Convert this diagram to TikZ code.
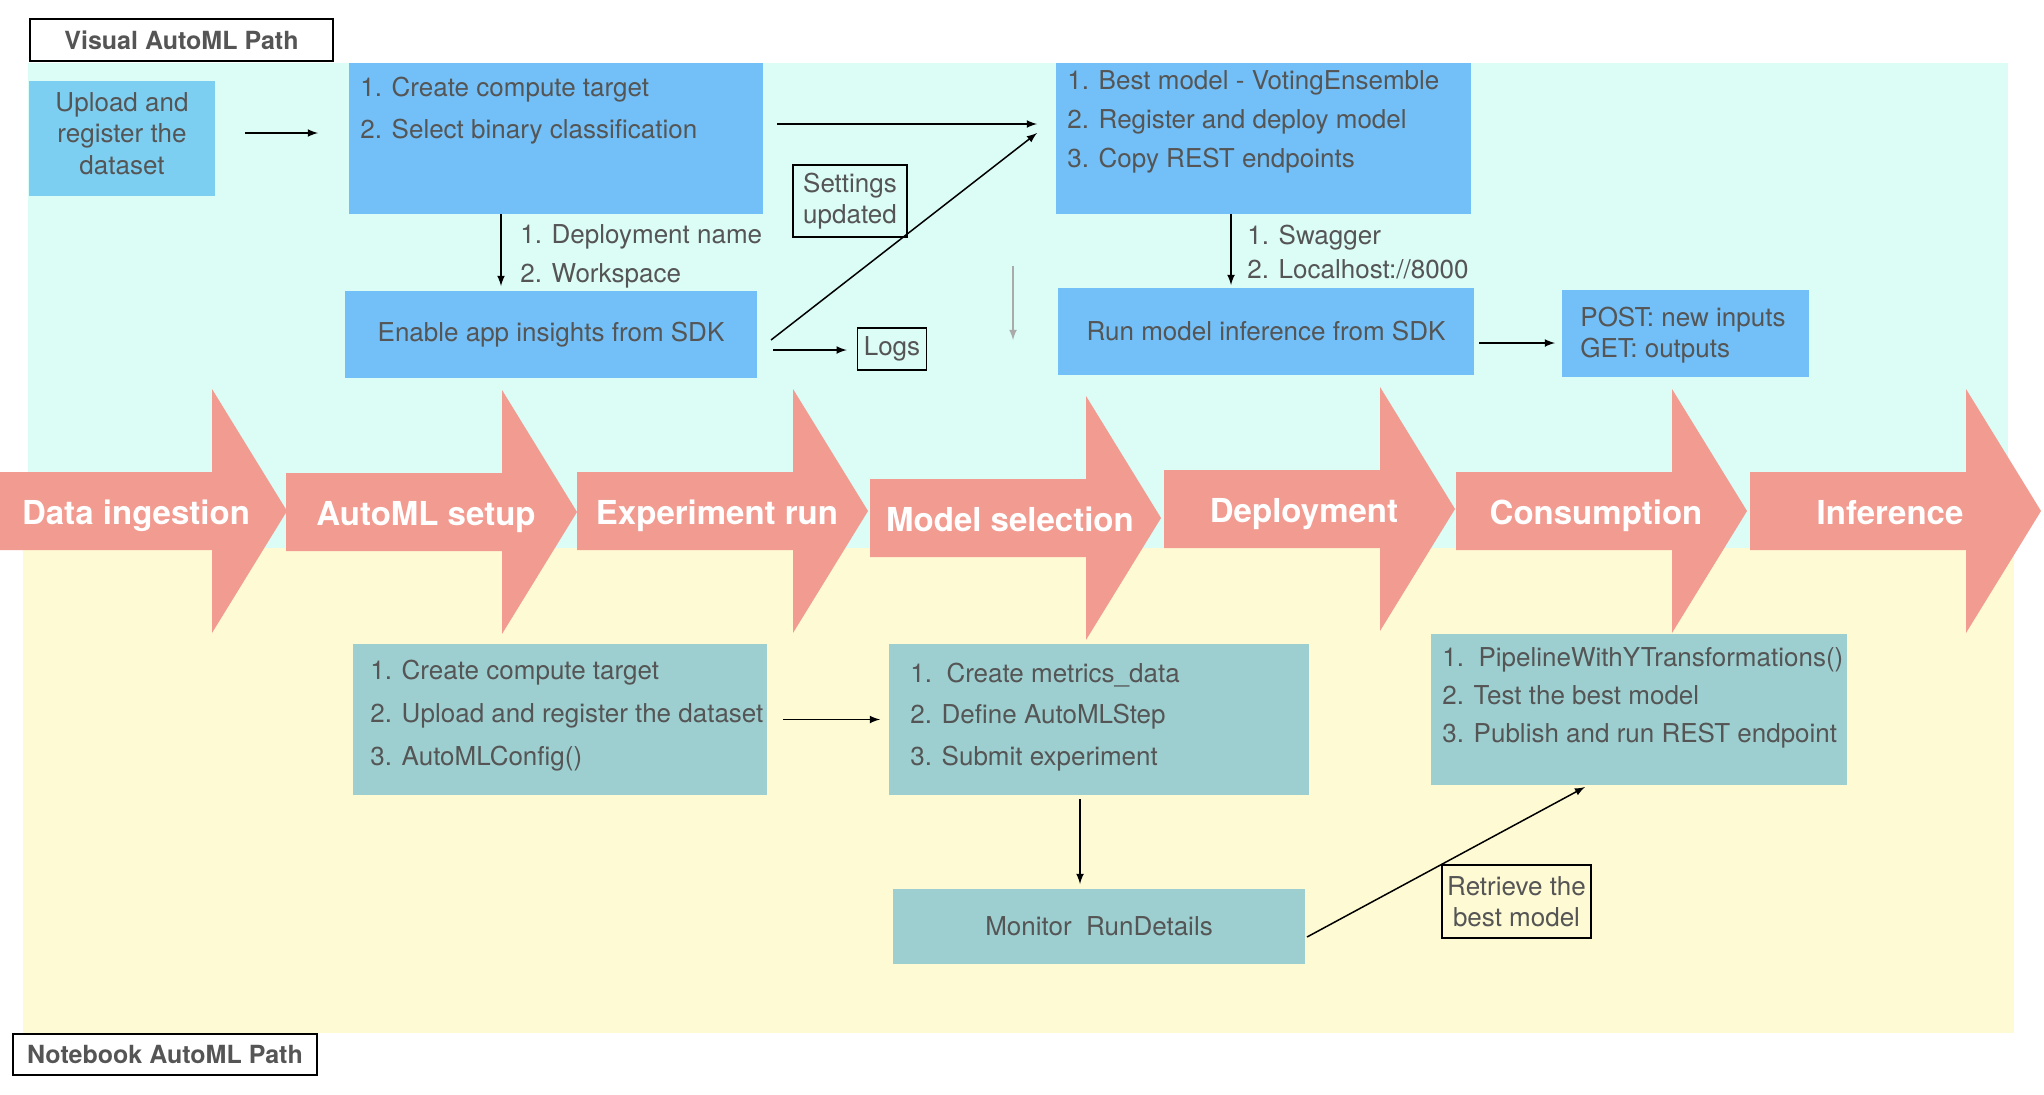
\documentclass[tikz,border=0pt]{standalone}
\usepackage{fontspec}
\setmainfont{TeX Gyre Heros}
\usetikzlibrary{calc, arrows}
\tikzset{>=latex}
\definecolor{mycyan}{RGB}{220, 252, 246}
\definecolor{myyellow}{RGB}{254, 250, 212}
\definecolor{myblue}{RGB}{114, 192, 247}
\definecolor{myblue2}{RGB}{125, 207, 241}
\definecolor{myteal}{RGB}{157, 207, 208}
\definecolor{mysalmon}{RGB}{241, 155, 145}
\definecolor{mytext}{RGB}{85, 85, 85}
\definecolor{mygray}{RGB}{170, 170, 170}

\tikzset{
  bbox/.style={anchor=north west, inner sep=0pt, outer sep=0pt, text=mytext, align=center, font=\fontsize{13}{15.75}\selectfont},
  txt/.style={anchor=north west, text=mytext, inner sep=0pt, align=left, font=\fontsize{13}{#1}\selectfont},
  txt/.default=21pt,
  tag/.style={draw, line width=0.75pt, text=mytext, inner sep=0pt, align=center, font=\fontsize{13}{15.5}\selectfont},
  pathtitle/.style={draw, line width=1pt, text=mytext, inner sep=0pt, font=\bfseries\fontsize{12.5}{15}\selectfont},
  stage/.style={anchor=base, text=white, font=\bfseries\fontsize{16.5}{20}\selectfont},
  conn/.style={->, line width=0.75pt}
}

\begin{document}
\begin{tikzpicture}[x=0.5pt, y=-0.5pt]
\useasboundingbox (0,0) rectangle (2044,1094);

% the two paths
\fill[mycyan] (28,63) rectangle (2008,548);
\fill[myyellow] (23,548) rectangle (2014,1033);
\node[pathtitle, minimum width=151.5pt, minimum height=21pt] (vis) at (181.5,40) {Visual AutoML Path};
\node[pathtitle, minimum width=152pt, minimum height=20.5pt] (nbk) at (165,1054.5) {Notebook AutoML Path};

% stages
\foreach \x/\y/\lbl [count=\i] in {-4/511/Data ingestion, 286/512/AutoML setup, 577/511/Experiment run,
    870/518/Model selection, 1164/509/Deployment, 1456/511/Consumption, 1750/511/Inference} {
  \fill[mysalmon] (\x,\y-39) -- (\x+216,\y-39) -- (\x+216,\y-122) -- (\x+291,\y)
    -- (\x+216,\y+122) -- (\x+216,\y+39) -- (\x,\y+39) -- cycle;
  \node[stage] (st\i) at (\x+140,\y+13) {\lbl};
}

% visual path
\node[bbox, fill=myblue2, minimum width=93pt, minimum height=57.5pt] (upl) at (29,81) {};
\node[bbox, anchor=center] (upltxt) at ([yshift=2.5pt]upl.center) {Upload and\\register the\\dataset};
\node[bbox, fill=myblue, minimum width=207pt, minimum height=75.5pt] (cfg) at (349,63) {};
\node[txt] (cfgtxt) at (360,76.5) {1. Create compute target\\2. Select binary classification};
\node[bbox, fill=myblue, minimum width=206pt, minimum height=43.5pt] (ins) at (345,291) {Enable app insights from SDK};
\node[bbox, fill=myblue, minimum width=207.5pt, minimum height=75.5pt] (best) at (1056,63) {};
\node[txt=19.5pt] (besttxt) at (1067,70.5) {1. Best model - VotingEnsemble\\2. Register and deploy model\\3. Copy REST endpoints};
\node[bbox, fill=myblue, minimum width=208pt, minimum height=43.5pt] (run) at (1058,288) {Run model inference from SDK};
\node[bbox, fill=myblue, minimum width=123.5pt, minimum height=43.5pt] (post) at (1562,290) {};
\node[txt=15.5pt] (posttxt) at (1580,306.5) {POST: new inputs\\GET: outputs};

\node[txt=19.5pt] (depl) at (520,224.5) {1. Deployment name\\2. Workspace};
\node[txt=17pt] (swag) at (1247,224.5) {1. Swagger\\2. Localhost://8000};
\node[tag, minimum width=57pt, minimum height=36pt] (set) at (850,201) {Settings\\updated};
\node[tag, minimum width=34.5pt, minimum height=21pt] (logs) at (892,349) {Logs};

\draw[conn, shorten <=15pt, shorten >=15.5pt] ([yshift=2.75pt]upl.east) -- ([yshift=2.75pt]upl.east -| cfg.west);
\draw[conn, shorten <=7pt, shorten >=9.5pt] ([yshift=7.25pt]cfg.east) -- ([yshift=7.25pt]cfg.east -| best.west);
\draw[conn, shorten >=2.5pt] ([xshift=76pt]cfg.south west) -- ([xshift=76pt]cfg.south west |- ins.north);
\draw[conn] ([shift={(7pt,-2.75pt)}]ins.east) -- ([shift={(-9.5pt,2.75pt)}]best.west);
\draw[conn, shorten <=8pt, shorten >=5pt] ([yshift=-7.75pt]ins.east) -- ([yshift=-7.75pt]ins.east -| logs.west);
\draw[conn, shorten >=1.5pt] ([xshift=87.5pt]best.south west) -- ([xshift=87.5pt]best.south west |- run.north);
\draw[conn, shorten <=2.5pt, shorten >=3.5pt] ([yshift=-5.75pt]run.east) -- ([yshift=-5.75pt]run.east -| post.west);
\coordinate (g1) at (1013,266);
\coordinate (g2) at (1013,340);
\draw[->, mygray, line width=0.75pt] (g1) -- (g2);

% notebook path
\node[bbox, fill=myteal, minimum width=207pt, minimum height=75.5pt] (nb1) at (353,644) {};
\node[txt=21.5pt] (nb1txt) at (370,659.5) {1. Create compute target\\2. Upload and register the dataset\\3. AutoMLConfig()};
\node[bbox, fill=myteal, minimum width=210pt, minimum height=75.5pt] (nb2) at (889,644) {};
\node[txt=20.75pt] (nb2txt) at (910,662.5) {1.\ \ Create metrics\_data\\2. Define AutoMLStep\\3. Submit experiment};
\node[bbox, fill=myteal, minimum width=206pt, minimum height=37.5pt] (mon) at (893,889) {Monitor\ \ RunDetails};
\node[bbox, fill=myteal, minimum width=208pt, minimum height=75.5pt] (cons) at (1431,634) {};
\node[txt=19pt] (constxt) at (1442,647.5) {1.\ \ PipelineWithYTransformations()\\2. Test the best model\\3. Publish and run REST endpoint};
\node[tag, minimum width=74.5pt, minimum height=36.5pt] (ret) at (1516.5,901.5) {Retrieve the\\best model};

\draw[conn, shorten <=8pt, shorten >=4.5pt] (nb1.east) -- (nb1.east -| nb2.west);
\draw[conn, shorten <=2pt, shorten >=2.5pt] ([xshift=95.5pt]nb2.south west) -- ([xshift=95.5pt]nb2.south west |- mon.north);
\draw[conn] ([shift={(1pt,-5.25pt)}]mon.east) -- ([shift={(77pt,-1pt)}]cons.south west);
\end{tikzpicture}
\end{document}
